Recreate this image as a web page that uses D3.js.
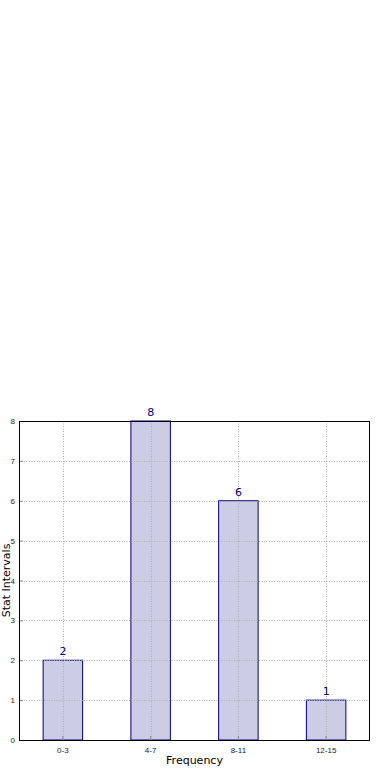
<!DOCTYPE html>
<html>
<head>
<meta charset="utf-8">
<script src="https://cdn.jsdelivr.net/npm/d3@7"></script>
<style>
  body { margin: 0; background: #fff; }
  svg { display: block; font-family: "DejaVu Sans", sans-serif; }
</style>
</head>
<body>
<svg id="chart" width="390" height="780"></svg>
<script>
const intervals = ["0-3", "4-7", "8-11", "12-15"];
const counts = [2, 8, 6, 1];
const yTicks = [0, 1, 2, 3, 4, 5, 6, 7, 8];

const margin = {top: 421, right: 20, bottom: 40, left: 19};
const width = 390, height = 780;

const svg = d3.select("#chart");

const x = d3.scaleBand()
    .domain(intervals)
    .range([margin.left, width - margin.right]);

const y = d3.scaleLinear()
    .domain([0, 8])
    .range([height - margin.bottom, margin.top]);

const barWidth = x.bandwidth() * 0.45;

// bars first, grid drawn over them
svg.append("g")
    .selectAll("rect")
    .data(intervals)
    .join("rect")
    .attr("x", d => x(d) + x.bandwidth() / 2 - barWidth / 2)
    .attr("y", (d, i) => y(counts[i]))
    .attr("width", barWidth)
    .attr("height", (d, i) => y(0) - y(counts[i]))
    .attr("fill", "#ccccE5")
    .attr("stroke", "#000080")
    .attr("stroke-width", 1);

//grid lines
const grid = svg.append("g")
    .attr("stroke", "#b0b0b0")
    .attr("stroke-width", 1)
    .attr("stroke-dasharray", "1,1.5");

grid.selectAll("line.h")
    .data(yTicks)
    .join("line")
    .attr("class", "h")
    .attr("x1", margin.left)
    .attr("x2", width - margin.right)
    .attr("y1", d => Math.round(y(d)) + 0.5)
    .attr("y2", d => Math.round(y(d)) + 0.5);

grid.selectAll("line.v")
    .data(intervals)
    .join("line")
    .attr("class", "v")
    .attr("x1", d => Math.round(x(d) + x.bandwidth() / 2) + 0.5)
    .attr("x2", d => Math.round(x(d) + x.bandwidth() / 2) + 0.5)
    .attr("y1", margin.top)
    .attr("y2", height - margin.bottom);

// value labels
svg.append("g")
    .selectAll("text")
    .data(intervals)
    .join("text")
    .attr("x", d => x(d) + x.bandwidth() / 2)
    .attr("y", (d, i) => y(counts[i]) - 5)
    .attr("text-anchor", "middle")
    .attr("font-size", 11)
    .attr("fill", "#000080")
    .text((d, i) => counts[i]);

// axes with inward ticks
const yAxis = svg.append("g")
    .attr("transform", `translate(${margin.left},0)`)
    .call(d3.axisLeft(y).tickValues(yTicks).tickSize(-4).tickPadding(4).tickFormat(d3.format("d")));
yAxis.select(".domain").remove();
yAxis.selectAll("text").attr("font-size", 8).attr("fill", "#222");
yAxis.selectAll("line").attr("stroke", "#888");

const xAxis = svg.append("g")
    .attr("transform", `translate(0,${height - margin.bottom})`)
    .call(d3.axisBottom(x).tickSize(-4).tickPadding(7));
xAxis.select(".domain").remove();
xAxis.selectAll("text").attr("font-size", 8).attr("fill", "#222");
xAxis.selectAll("line").attr("stroke", "#888");

// frame
svg.append("rect")
    .attr("x", margin.left + 0.5)
    .attr("y", margin.top + 0.5)
    .attr("width", width - margin.left - margin.right - 1)
    .attr("height", height - margin.top - margin.bottom)
    .attr("fill", "none")
    .attr("stroke", "#000")
    .attr("stroke-width", 1);

// axis titles
svg.append("text")
    .attr("x", (margin.left + width - margin.right) / 2)
    .attr("y", 764)
    .attr("text-anchor", "middle")
    .attr("font-size", 11)
    .text("Frequency");

svg.append("text")
    .attr("transform", `translate(9.5,${(margin.top + height - margin.bottom) / 2}) rotate(-90)`)
    .attr("text-anchor", "middle")
    .attr("font-size", 11)
    .text("Stat Intervals");
</script>
</body>
</html>
